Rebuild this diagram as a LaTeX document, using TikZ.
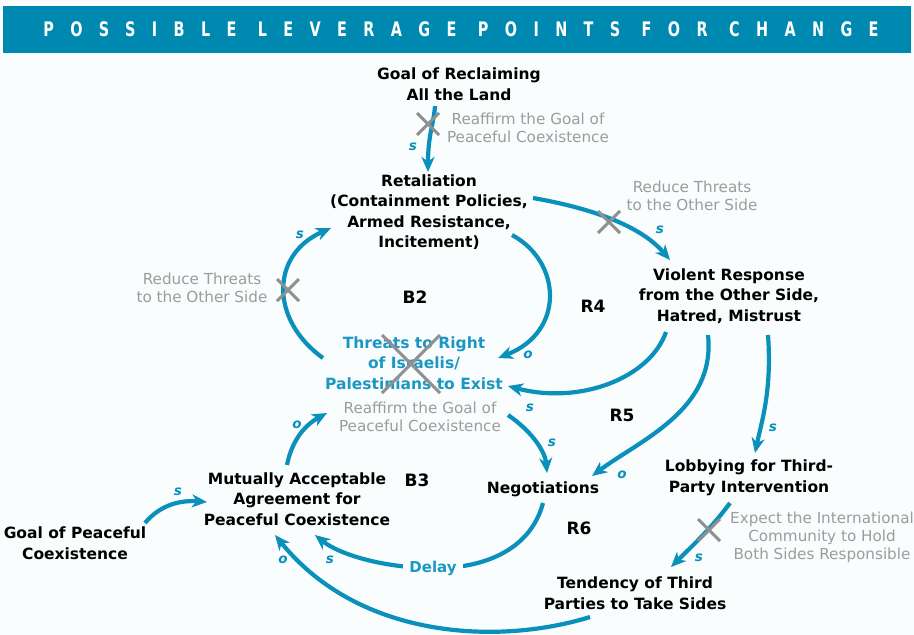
\documentclass[tikz,border=0pt]{standalone}
\usepackage{fontspec}
\setmainfont{DejaVu Sans}
\newfontfamily\bannerfont{DejaVu Sans}[LetterSpace=82,FakeStretch=0.72]
\usetikzlibrary{arrows.meta,calc}
\definecolor{arrowblue}{HTML}{0A90BA}
\definecolor{textblue}{HTML}{1C96C2}
\definecolor{bannerblue}{HTML}{0089B0}
\definecolor{notegray}{HTML}{9C9C9C}
\definecolor{xgray}{HTML}{909090}
\definecolor{bg}{HTML}{F9FDFE}
\tikzset{
  mainlbl/.style={align=center, inner sep=0pt, font=\fontsize{15.5}{20.5}\selectfont\bfseries},
  bluelbl/.style={mainlbl, text=textblue},
  notelbl/.style={align=center, inner sep=0pt, text=notegray, font=\fontsize{15.2}{18}\selectfont},
  looplbl/.style={inner sep=0pt, font=\fontsize{17}{17}\selectfont\bfseries},
  pol/.style={inner sep=0pt, text=arrowblue, font=\fontsize{13.5}{13.5}\selectfont\bfseries\itshape},
  arr/.style={draw=arrowblue, line width=4.2pt, -{Stealth[length=15pt,width=13pt,inset=4.5pt]}},
  xline/.style={draw=xgray, line width=3pt},
}
\newcommand{\xmark}[2]{%
  \draw[xline] ($(#1)+(-#2,-#2)$) -- ($(#1)+(#2,#2)$);
  \draw[xline] ($(#1)+(-#2,#2)$) -- ($(#1)+(#2,-#2)$);}
\begin{document}
\begin{tikzpicture}[x=1pt,y=-1pt]
\useasboundingbox (0,0) rectangle (914,635);
\fill[bg] (0,0) rectangle (914,635);
% banner
\fill[bannerblue] (3,6) rectangle (911,53);
\node[text=white, inner sep=0pt, font=\bannerfont\bfseries\fontsize{20}{20}\selectfont] (banner) at (461,29) {POSSIBLE LEVERAGE POINTS FOR CHANGE};

% variables
\node[mainlbl] (goal) at (459,84) {Goal of Reclaiming\\All the Land};
\node[mainlbl] (ret) at (429,212) {Retaliation\\(Containment Policies,\\Armed Resistance,\\Incitement)};
\node[bluelbl] (thr) at (414,363) {Threats to Right\\of Israelis/\\Palestinians to Exist};
\node[notelbl] (reaf2) at (420,417) {Reaffirm the Goal of\\Peaceful Coexistence};
\node[mainlbl] (vio) at (729,296) {Violent Response\\from the Other Side,\\Hatred, Mistrust};
\node[mainlbl] (neg) at (543,489) {Negotiations};
\node[mainlbl] (lob) at (749,478) {Lobbying for Third-\\Party Intervention};
\node[mainlbl] (mut) at (297,499) {Mutually Acceptable\\Agreement for\\Peaceful Coexistence};
\node[mainlbl] (gpc) at (75,543) {Goal of Peaceful\\Coexistence};
\node[mainlbl] (ten) at (635,593) {Tendency of Third\\Parties to Take Sides};

% leverage notes
\node[notelbl] (reaf1) at (528,128) {Reaffirm the Goal of\\Peaceful Coexistence};
\node[notelbl] (red1) at (692,196) {Reduce Threats\\to the Other Side};
\node[notelbl] (red2) at (202,288) {Reduce Threats\\to the Other Side};
\node[notelbl] (exp) at (822,537) {Expect the International\\Community to Hold\\Both Sides Responsible};

% loop labels
\node[looplbl] (b2) at (415,297) {B2};
\node[looplbl] (r4) at (593,306) {R4};
\node[looplbl] (r5) at (622,415) {R5};
\node[looplbl] (b3) at (417,480) {B3};
\node[looplbl] (r6) at (579,528) {R6};

% arrow endpoints
\coordinate (a1s) at (435,106); \coordinate (a1e) at (428,172);
\coordinate (a2s) at (533,198); \coordinate (a2e) at (670,260);
\coordinate (a3s) at (512,235); \coordinate (a3e) at (498,358);
\coordinate (a4s) at (323,358); \coordinate (a4e) at (331,228);
\coordinate (a5s) at (666,332); \coordinate (a5e) at (508,386);
\coordinate (a6s) at (708,335); \coordinate (a6e) at (592,476);
\coordinate (a7s) at (768,335); \coordinate (a7e) at (755,453);
\coordinate (a8s) at (508,415); \coordinate (a8e) at (547,473);
\coordinate (a9s) at (287,465); \coordinate (a9e) at (327,413);
\coordinate (a10s) at (145,523); \coordinate (a10e) at (207,502);
\coordinate (a11s) at (543,503); \coordinate (a11e) at (315,535);
\coordinate (a12s) at (730,503); \coordinate (a12e) at (671,567);
\coordinate (a13s) at (590,617); \coordinate (a13e) at (275,535);
\coordinate (dl) at (433,568);

\draw[arr] (a1s) .. controls (434,122) and (428,135) .. (a1e);
\draw[arr] (a2s) .. controls (590,208) and (640,225) .. (a2e);
\draw[arr] (a3s) .. controls (562,262) and (565,332) .. (a3e);
\draw[arr] (a4s) .. controls (270,320) and (270,255) .. (a4e);
\draw[arr] (a5s) .. controls (650,378) and (580,405) .. (a5e);
\draw[arr] (a6s) .. controls (716,410) and (640,440) .. (a6e);
\draw[arr] (a7s) .. controls (772,390) and (762,420) .. (a7e);
\draw[arr] (a8s) .. controls (530,430) and (545,450) .. (a8e);
\draw[arr] (a9s) .. controls (292,440) and (305,425) .. (a9e);
\draw[arr] (a10s) .. controls (160,505) and (180,500) .. (a10e);
\draw[arr] (a11s) .. controls (530,552) and (480,569) .. (dl) .. controls (385,568) and (340,555) .. (a11e);
\draw[arr] (a12s) .. controls (710,530) and (690,548) .. (a12e);
\draw[arr] (a13s) .. controls (500,645) and (360,640) .. (a13e);
\node[fill=bg, text=textblue, inner xsep=6pt, inner ysep=2pt, font=\fontsize{15}{15}\selectfont\bfseries] (delay) at (dl) {Delay};

% polarities
\node[pol] at (413,147) {s};
\node[pol] at (660,230) {s};
\node[pol] at (528,355) {o};
\node[pol] at (300,235) {s};
\node[pol] at (530,408) {s};
\node[pol] at (622,475) {o};
\node[pol] at (773,428) {s};
\node[pol] at (552,443) {s};
\node[pol] at (297,425) {o};
\node[pol] at (178,492) {s};
\node[pol] at (330,560) {s};
\node[pol] at (699,558) {s};
\node[pol] at (283,560) {o};

% X marks
\coordinate (x1) at (428,124);
\coordinate (x2) at (609,222);
\coordinate (x3) at (288,290);
\coordinate (x4) at (709,530);
\coordinate (x5) at (411,364);
\xmark{x1}{11}
\xmark{x2}{11}
\xmark{x3}{11}
\xmark{x4}{11}
\xmark{x5}{29}
\end{tikzpicture}
\end{document}
